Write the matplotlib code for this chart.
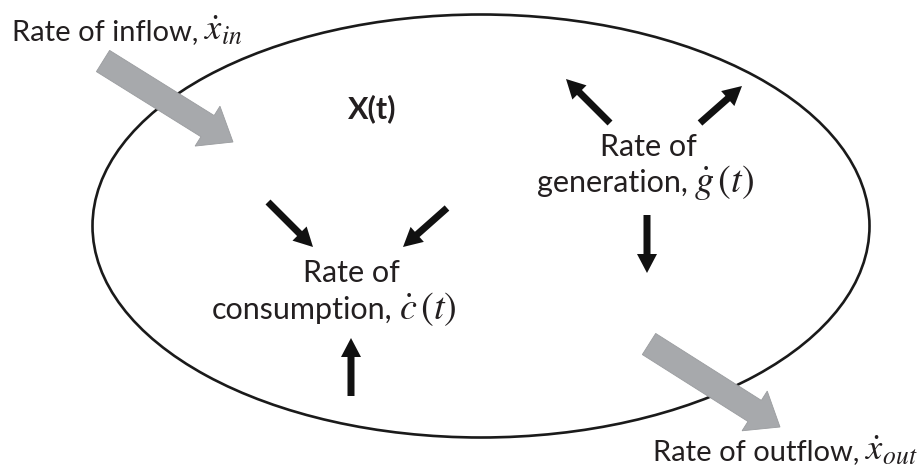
import matplotlib.pyplot as plt
from matplotlib.patches import Ellipse, FancyArrow

plt.rcParams['font.family'] = ['Lato', 'DejaVu Sans']
plt.rcParams['mathtext.fontset'] = 'stix'

# control volume (pixel coords, y downwards)
ellipse_center = (481, 226)
ellipse_size = (777, 423)

# big grey flow arrows: (x_tail, y_tail, x_tip, y_tip)
flow_arrows = [(103, 61, 233, 142), (649, 344, 780, 427)]

# small black arrows: (x_tail, y_tail, x_tip, y_tip)
small_arrows = [
    (268, 202, 313, 247),
    (447, 208, 403, 247),
    (351, 396, 351, 338),
    (610, 123, 566, 79),
    (700, 123, 742, 86),
    (647, 215, 647, 273),
]

# labels: (x, y_baseline, word part, math part, align, size)
labels = [
    (12, 40, 'Rate of inflow,', r'$\dot{x}_{in}$', 'left', 21),
    (648, 156, 'Rate of', '', 'center', 22),
    (537, 192, 'generation,', r'$\dot{g}\,(t)$', 'left', 22),
    (351, 282, 'Rate of', '', 'center', 22),
    (212, 319, 'consumption,', r'$\dot{c}\,(t)$', 'left', 22),
    (918, 460, 'Rate of outflow,', r'$\dot{x}_{out}$', 'right', 21),
]

fig = plt.figure(figsize=(9.2, 4.7), dpi=100)
ax = fig.add_axes([0, 0, 1, 1])
ax.set_xlim(0, 920)
ax.set_ylim(470, 0)
ax.set_axis_off()
r = fig.canvas.get_renderer()
inv = ax.transData.inverted()

ax.add_patch(Ellipse(ellipse_center, ellipse_size[0], ellipse_size[1],
                     fill=False, edgecolor='#1a1a1a', linewidth=1.9, zorder=1))

for x0, y0, x1, y1 in flow_arrows:
    ax.add_patch(FancyArrow(x0, y0, x1 - x0, y1 - y0, width=25, head_width=47,
                            head_length=30, length_includes_head=True,
                            facecolor='#a7a9ac', edgecolor='#9a9c9f',
                            linewidth=0.6, zorder=2))

for x0, y0, x1, y1 in small_arrows:
    ax.add_patch(FancyArrow(x0, y0, x1 - x0, y1 - y0, width=7, head_width=20,
                            head_length=19, length_includes_head=True,
                            facecolor='#111111', edgecolor='none', zorder=3))

col = '#231f20'
for x, y, word, math, align, size in labels:
    msize = size * 1.25
    if align == 'center' or not math:
        ax.text(x, y, word, ha=align, va='baseline', fontsize=size, color=col)
    elif align == 'left':
        t = ax.text(x, y, word, ha='left', va='baseline', fontsize=size, color=col)
        xe = inv.transform((t.get_window_extent(r).x1, 0))[0]
        ax.text(xe + 6, y, math, ha='left', va='baseline', fontsize=msize, color=col)
    else:
        m = ax.text(x, y, math, ha='right', va='baseline', fontsize=msize, color=col)
        xs = inv.transform((m.get_window_extent(r).x0, 0))[0]
        ax.text(xs - 6, y, word, ha='right', va='baseline', fontsize=size, color=col)

ax.text(372, 118, 'X(t)', ha='center', va='baseline', fontsize=22,
        fontweight='bold', color=col)

fig.savefig('out.png', dpi=100)
